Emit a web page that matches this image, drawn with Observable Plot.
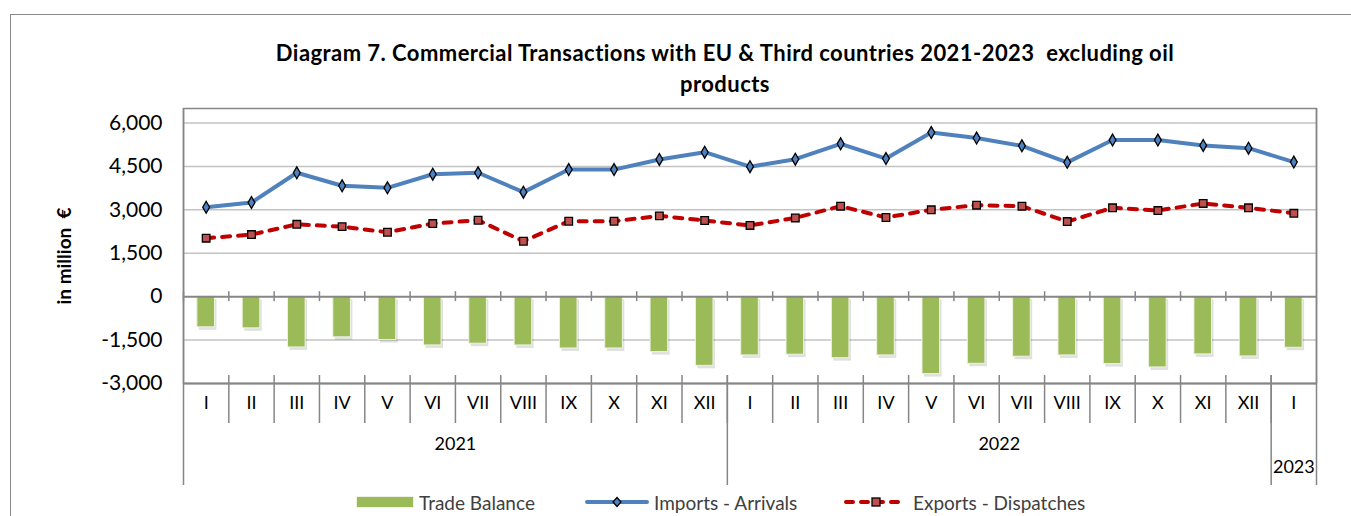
<!DOCTYPE html>
<html>
<head>
<meta charset="utf-8">
<script src="https://cdn.jsdelivr.net/npm/d3@7"></script>
<script src="https://cdn.jsdelivr.net/npm/@observablehq/plot@0.6"></script>
<style>
  body { margin: 0; background: #fff; font-family: Lato, sans-serif; color: #000; }
  #wrap { position: relative; width: 1351px; height: 516px; overflow: hidden; }
  #chart { position: absolute; left: 0; top: 0; }
  #frameTop { position: absolute; left: 10px; top: 14px; width: 1341px; border-top: 1px solid #8a8a8a; }
  #frameLeft { position: absolute; left: 10px; top: 14px; height: 502px; border-left: 1px solid #8a8a8a; }
  #title { position: absolute; left: 0; top: 37px; width: 1450px; text-align: center; font-weight: bold; font-size: 22px; letter-spacing: 0.45px; line-height: 31px; white-space: pre; }
  #ylab { position: absolute; left: 63px; top: 256px; transform: translate(-50%, -50%) rotate(-90deg); font-weight: bold; font-size: 19px; white-space: pre; }
  .leg { position: absolute; top: 491px; height: 22px; display: flex; align-items: center; font-size: 19px; color: #404040; white-space: pre; }
  .leg svg { margin-right: 5px; }
</style>
</head>
<body>
<div id="wrap">
  <div id="chart"></div>
  <div id="frameTop"></div>
  <div id="frameLeft"></div>
  <div id="title"></div>
  <div id="ylab"></div>
  <div id="legend"></div>
</div>
<script>
// ---- data ----
const titleLines = ["Diagram 7. Commercial Transactions with EU & Third countries 2021-2023  excluding oil", "products"];
const yLabel = "in million  €";
const monthLabels = ["I","II","III","IV","V","VI","VII","VIII","IX","X","XI","XII",
                     "I","II","III","IV","V","VI","VII","VIII","IX","X","XI","XII","I"];
const yearLabels = ["2021","2021","2021","2021","2021","2021","2021","2021","2021","2021","2021","2021",
                    "2022","2022","2022","2022","2022","2022","2022","2022","2022","2022","2022","2022","2023"];
const imports = [3090,3250,4280,3830,3760,4230,4280,3610,4390,4390,4740,4990,
                 4490,4750,5280,4770,5670,5480,5210,4640,5410,5410,5225,5130,4650];
const exportsD = [2020,2145,2500,2420,2225,2525,2640,1915,2605,2605,2790,2630,
                  2460,2720,3125,2735,3000,3160,3125,2595,3070,2975,3220,3070,2880];
const balance = [-1060,-1095,-1755,-1405,-1500,-1685,-1625,-1685,-1790,-1790,-1915,-2390,
                 -2030,-2005,-2125,-2030,-2675,-2320,-2075,-2030,-2330,-2445,-1995,-2065,-1765];
const yTicks = [-3000,-1500,0,1500,3000,4500,6000];
const seriesNames = ["Trade Balance","Imports - Arrivals","Exports - Dispatches"];

// ---- layout ----
const W = 1351, H = 516, mL = 183, mR = 35, mT = 108, mB = 133;
const n = monthLabels.length;
const idx = d3.range(n);
const bw = (W - mL - mR) / n;
const rows = idx.map(i => ({i, month: monthLabels[i], year: yearLabels[i], imp: imports[i], exp: exportsD[i], bal: balance[i]}));
const fmt = d => d3.format(",")(d).replace("\u2212", "-");

const c = {bar: "#9bbb59", imp: "#4f81bd", exp: "#c00000", expFill: "#c0504d", axis: "#868686", grid: "#c3c3c3"};

// year groups
const years = Array.from(d3.group(rows, d => d.year), ([year, g]) => ({year, first: g[0].i, count: g.length}));
const yearBoundaries = years.slice(1).map(y => y.first);
const yearMarks = years.map(y => Plot.text([y], {
  x: "first", text: "year", frameAnchor: "bottom",
  dx: (y.count - 1) * bw / 2, dy: y.count > 1 ? 66 : 89, fontSize: 18
}));

const chart = Plot.plot({
  width: W, height: H,
  marginLeft: mL, marginRight: mR, marginTop: mT, marginBottom: mB,
  style: {fontFamily: "Lato, sans-serif", background: "transparent", color: "#000"},
  x: {type: "band", domain: idx, padding: 0, round: false, axis: null},
  y: {domain: [-3000, 6500], axis: null},
  marks: [
    Plot.gridY({ticks: yTicks.filter(t => t !== 0 && t !== -3000), stroke: c.grid, strokeOpacity: 1, strokeWidth: 1.5}),
    Plot.axisY({ticks: yTicks, tickSize: 0, tickPadding: 21, tickFormat: fmt, fontSize: 21, label: null}),
    // bar shadow + bars
    Plot.barY(rows, {x: "i", y: "bal", fill: "#000", fillOpacity: 0.12, insetLeft: bw/2 - 8.8 + 2, insetRight: bw/2 - 8.8 - 2, dy: 3}),
    Plot.barY(rows, {x: "i", y: "bal", fill: c.bar, stroke: "#eef2e2", strokeWidth: 1, insetLeft: bw/2 - 8.8, insetRight: bw/2 - 8.8}),
    // axis lines
    Plot.ruleY([0], {stroke: c.axis, strokeWidth: 2}),
    Plot.ruleY([-3000], {stroke: c.axis, strokeWidth: 2}),
    Plot.frame({stroke: c.axis, strokeWidth: 1.5}),
    // tick marks on zero line at category boundaries
    Plot.ruleX(idx, {x: d => d, y1: 0, y2: 0, dx: -bw/2, insetTop: -5, insetBottom: -5, stroke: c.axis, strokeWidth: 1.5}),
    // month separators
    Plot.ruleX(idx.slice(1), {x: d => d, dx: -bw/2, insetTop: 267, insetBottom: -40, stroke: c.axis, strokeWidth: 1.5}),
    // year separators
    Plot.ruleX(yearBoundaries, {x: d => d, dx: -bw/2, insetTop: 267, insetBottom: -102, stroke: c.axis, strokeWidth: 1.5}),
    // outer left / right edges of category table
    Plot.ruleX([idx[0]], {x: d => d, dx: -bw/2, insetBottom: -102, stroke: c.axis, strokeWidth: 1.5}),
    Plot.ruleX([idx[n-1]], {x: d => d, dx: bw/2, insetBottom: -102, stroke: c.axis, strokeWidth: 1.5}),
    // lines
    Plot.line(rows, {x: "i", y: "imp", stroke: c.imp, strokeWidth: 4}),
    Plot.line(rows, {x: "i", y: "exp", stroke: c.exp, strokeWidth: 4, strokeDasharray: "8,8", strokeLinecap: "round"}),
    Plot.dot(rows, {x: "i", y: "imp", symbol: "diamond", r: 3.6, fill: c.imp, stroke: "#000", strokeWidth: 1.3}),
    Plot.dot(rows, {x: "i", y: "exp", symbol: "square", r: 4.3, fill: c.expFill, stroke: "#000", strokeWidth: 1.3}),
    // category labels
    Plot.text(rows, {x: "i", text: "month", frameAnchor: "bottom", dy: 25, fontSize: 18}),
    ...yearMarks
  ]
});
document.getElementById("chart").appendChild(chart);

// title, y label
const t = document.getElementById("title");
titleLines.forEach(s => { const d = document.createElement("div"); d.textContent = s; t.appendChild(d); });
document.getElementById("ylab").textContent = yLabel;

// legend
const legend = document.getElementById("legend");
const legendItems = [
  {name: seriesNames[0], left: 356, svg: `<svg width="58" height="14"><rect x="0.5" y="1.5" width="57" height="11" fill="${c.bar}" stroke="#eef2e2"/></svg>`},
  {name: seriesNames[1], left: 585, svg: `<svg width="64" height="14"><line x1="2" y1="7" x2="62" y2="7" stroke="${c.imp}" stroke-width="4" stroke-linecap="round"/><path d="M32,2.5L36,7L32,11.5L28,7Z" fill="${c.imp}" stroke="#000" stroke-width="1.3"/></svg>`},
  {name: seriesNames[2], left: 844, svg: `<svg width="64" height="14"><line x1="2" y1="7" x2="62" y2="7" stroke="${c.exp}" stroke-width="4" stroke-dasharray="7,8" stroke-linecap="round"/><rect x="28" y="3" width="8" height="8" fill="${c.expFill}" stroke="#000" stroke-width="1.3"/></svg>`}
];
legendItems.forEach(it => {
  const d = document.createElement("div");
  d.className = "leg";
  d.style.left = it.left + "px";
  d.innerHTML = it.svg;
  const s = document.createElement("span"); s.textContent = it.name; d.appendChild(s);
  legend.appendChild(d);
});
</script>
</body>
</html>
